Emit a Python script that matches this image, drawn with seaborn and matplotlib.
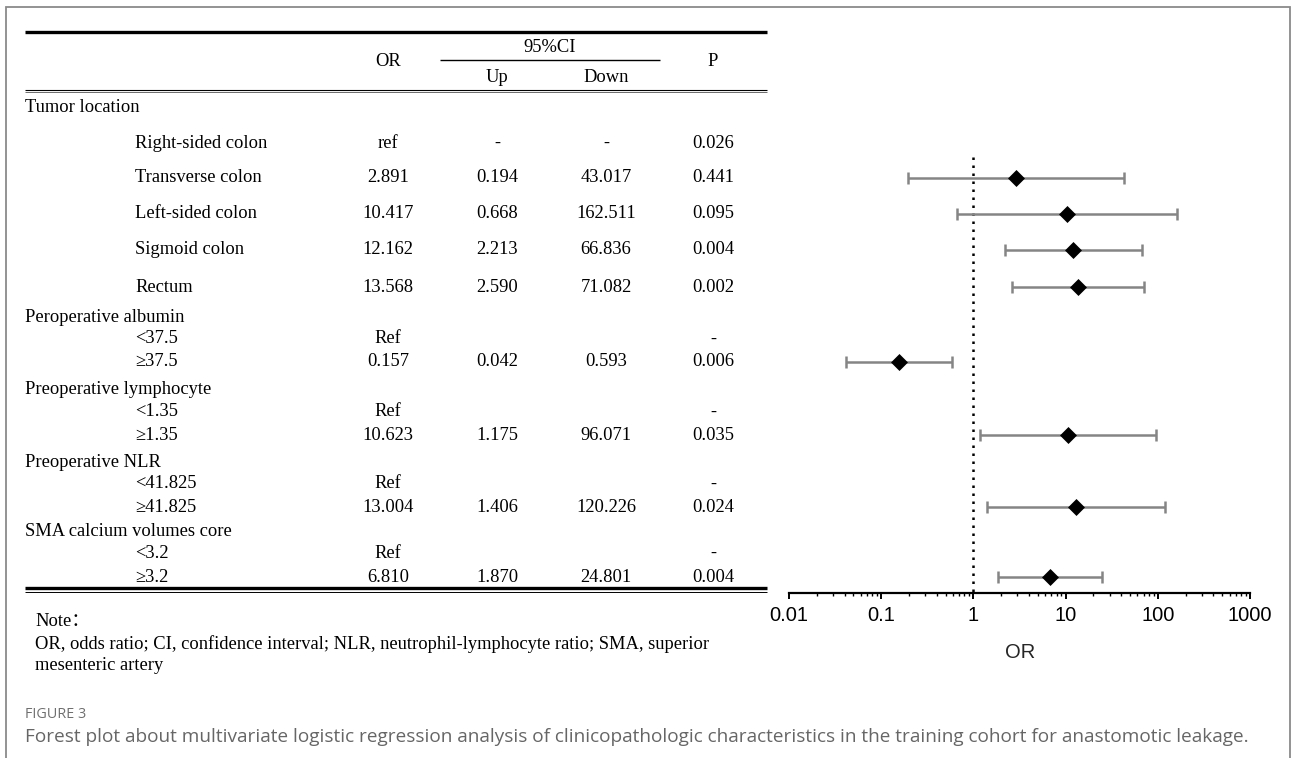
import numpy as np
import matplotlib
matplotlib.use("Agg")
import matplotlib.pyplot as plt
from matplotlib.lines import Line2D
from matplotlib.patches import Rectangle
from matplotlib.ticker import LogLocator, FixedFormatter, FixedLocator, NullFormatter
import pandas as pd
import seaborn as sns

# ---- table content -------------------------------------------------------
row_text = ["Tumor location", "Right-sided colon", "Transverse colon", "Left-sided colon",
            "Sigmoid colon", "Rectum",
            "Peroperative albumin", "<37.5", "\u226537.5",
            "Preoperative lymphocyte", "<1.35", "\u22651.35",
            "Preoperative NLR", "<41.825", "\u226541.825",
            "SMA calcium volumes core", "<3.2", "\u22653.2"]
row_kind = ["var", "ref0", "lvl", "lvl", "lvl", "lvl",
            "var", "ref", "lvl",
            "var", "ref", "lvl",
            "var", "ref", "lvl",
            "var", "ref", "lvl"]
nan = np.nan
odds_ratio = [nan, nan, 2.891, 10.417, 12.162, 13.568,
              nan, nan, 0.157,
              nan, nan, 10.623,
              nan, nan, 13.004,
              nan, nan, 6.810]
ci_up = [nan, nan, 0.194, 0.668, 2.213, 2.590,
         nan, nan, 0.042,
         nan, nan, 1.175,
         nan, nan, 1.406,
         nan, nan, 1.870]
ci_down = [nan, nan, 43.017, 162.511, 66.836, 71.082,
           nan, nan, 0.593,
           nan, nan, 96.071,
           nan, nan, 120.226,
           nan, nan, 24.801]
p_text = ["", "0.026", "0.441", "0.095", "0.004", "0.002",
          "", "-", "0.006",
          "", "-", "0.035",
          "", "-", "0.024",
          "", "-", "0.004"]

tick_values = [0.01, 0.1, 1, 10, 100, 1000]
tick_labels = ["0.01", "0.1", "1", "10", "100", "1000"]

# ---- layout (pixels) -----------------------------------------------------
W, H = 1292, 758
row_y = [107, 143, 178, 214, 250, 287, 317, 339, 362, 389, 412, 435,
         462, 484, 507, 531, 553, 577]
col_or, col_up, col_down, col_p = 388, 497, 606, 713
TABLE_FS = 13.3

sns.set_theme(style="white")
plt.rcParams["font.family"] = ["Liberation Serif", "DejaVu Serif"]

fig = plt.figure(figsize=(W / 100, H / 100), dpi=100)
fig.patch.set_facecolor("white")


def fx(x):
    return x / W


def fy(y):
    return 1 - y / H


def ftext(x, y, s, **kw):
    kw.setdefault("fontsize", TABLE_FS)
    kw.setdefault("va", "center")
    kw.setdefault("color", "black")
    fig.text(fx(x), fy(y), s, **kw)


def hline(x0, x1, y, lw, color="black"):
    fig.add_artist(Line2D([fx(x0), fx(x1)], [fy(y), fy(y)], lw=lw, color=color,
                          solid_capstyle="butt"))


# panel frame
fig.add_artist(Rectangle((fx(6), fy(790)), fx(1290) - fx(6), fy(7) - fy(790),
                         fill=False, lw=1.3, edgecolor="#8a8a8a"))

# table rules
hline(25, 767, 32, 2.4)
hline(440, 660, 60, 1.0)
hline(25, 767, 89.5, 0.8)
hline(25, 767, 91.5, 0.6, "#555555")
hline(25, 767, 588, 2.4)
hline(25, 767, 591.5, 0.7)

# header
ftext(col_or, 62, "OR", ha="center")
ftext((440 + 660) / 2, 47, "95%CI", ha="center")
ftext(col_up, 77, "Up", ha="center")
ftext(col_down, 77, "Down", ha="center")
ftext(col_p, 62, "P", ha="center")


def fmt(v):
    return "" if np.isnan(v) else f"{v:.3f}"


for y, label, kind, o, lo, hi, p in zip(row_y, row_text, row_kind, odds_ratio,
                                        ci_up, ci_down, p_text):
    ftext(25 if kind == "var" else 135, y, label, ha="left")
    if kind == "ref0":
        ftext(col_or, y, "ref", ha="center")
        ftext(col_up, y, "-", ha="center")
        ftext(col_down, y, "-", ha="center")
    elif kind == "ref":
        ftext(col_or, y, "Ref", ha="center")
    else:
        ftext(col_or, y, fmt(o), ha="center")
        ftext(col_up, y, fmt(lo), ha="center")
        ftext(col_down, y, fmt(hi), ha="center")
    ftext(col_p, y, p, ha="center")

# notes
ftext(35, 621, "Note\uff1a", ha="left", family=["Liberation Serif", "Noto Sans CJK SC"])
ftext(35, 644, "OR, odds ratio; CI, confidence interval; NLR, neutrophil-lymphocyte ratio; "
               "SMA, superior", ha="left")
ftext(35, 666, "mesenteric artery", ha="left")

# caption
ftext(25, 714, "FIGURE 3", ha="left", fontsize=10.4, color="#6f6f6f",
      family=["Open Sans", "DejaVu Sans"])
ftext(25, 737, "Forest plot about multivariate logistic regression analysis of clinicopathologic "
               "characteristics in the training cohort for anastomotic leakage.",
      ha="left", fontsize=13.7, color="#666666", family=["Open Sans", "DejaVu Sans"])

# ---- forest plot ---------------------------------------------------------
x0, x1, ytop, ybot = 789, 1250, 150, 593
ax = fig.add_axes([fx(x0), fy(ybot), fx(x1) - fx(x0), fy(ytop) - fy(ybot)])
ax.set_facecolor("white")

df = pd.DataFrame({"y": row_y, "OR": odds_ratio, "lo": ci_up, "hi": ci_down}).dropna()

ax.errorbar(df["OR"], df["y"], xerr=[df["OR"] - df["lo"], df["hi"] - df["OR"]],
            fmt="none", ecolor="#858585", elinewidth=1.8, capsize=4.3, capthick=1.8,
            zorder=2)
sns.scatterplot(data=df, x="OR", y="y", marker="D", s=75, color="black",
                edgecolor="black", linewidth=0, ax=ax, zorder=3, legend=False)

ax.vlines(1, 157, ybot, colors="black", linestyles=(0, (1, 2.2)), lw=1.8, zorder=1)

ax.set_xscale("log")
ax.set_xlim(tick_values[0], tick_values[-1])
ax.set_ylim(ybot, ytop)
for side in ["top", "right", "left"]:
    ax.spines[side].set_visible(False)
ax.spines["bottom"].set_linewidth(1.6)
ax.spines["bottom"].set_color("black")
ax.set_yticks([])
ax.xaxis.set_major_locator(FixedLocator(tick_values))
ax.xaxis.set_major_formatter(FixedFormatter(tick_labels))
ax.xaxis.set_minor_locator(LogLocator(base=10, subs=np.arange(2, 10)))
ax.xaxis.set_minor_formatter(NullFormatter())
ax.tick_params(axis="x", which="major", direction="out", length=4.5, width=1.4,
               colors="black", labelsize=14.5, pad=5, bottom=True)
ax.tick_params(axis="x", which="minor", direction="out", length=2.5, width=1.0,
               colors="black", bottom=True)
for lab in ax.get_xticklabels():
    lab.set_family(["Liberation Sans", "DejaVu Sans"])
ax.set_xlabel("OR", fontsize=14.5, family=["Liberation Sans", "DejaVu Sans"], labelpad=13)
ax.set_ylabel("")
ax.xaxis.label.set_x((1020 - x0) / (x1 - x0))

fig.savefig("out.png", dpi=100, facecolor="white")
